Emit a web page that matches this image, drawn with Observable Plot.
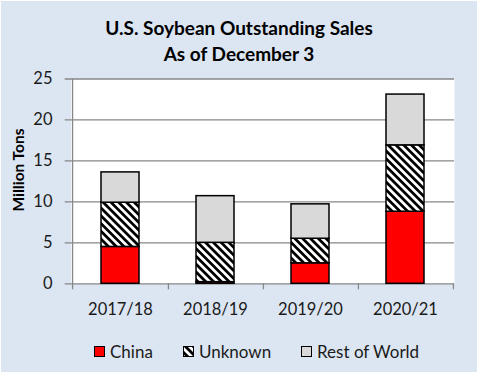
<!DOCTYPE html>
<html><head><meta charset="utf-8">
<script src="https://cdn.jsdelivr.net/npm/d3@7"></script>
<script src="https://cdn.jsdelivr.net/npm/@observablehq/plot@0.6"></script>
<style>
body{margin:0;background:#fff;}
#wrap{position:relative;width:482px;height:377px;overflow:hidden;font-family:Lato,"Open Sans",sans-serif;color:#1a1a1a;}
#bg{position:absolute;left:1px;top:1px;width:476px;height:371px;background:#DCE6F2;}
#title{position:absolute;left:1px;width:476px;top:15px;text-align:center;font-weight:bold;font-size:19px;line-height:26px;color:#000;}
#chart{position:absolute;left:0;top:0;}
#ylab{position:absolute;left:18px;top:170px;transform:translate(-50%,-50%) rotate(-90deg);white-space:nowrap;font-weight:bold;font-size:15.5px;color:#000;}
.li{position:absolute;top:341px;height:20px;display:flex;align-items:center;font-size:17px;white-space:nowrap;}
.sw{width:11px;height:11px;box-sizing:border-box;border:1px solid #000;margin-right:5px;}
</style></head>
<body>
<div id="wrap">
  <div id="bg"></div>
  <div id="title">U.S. Soybean Outstanding Sales<br>As of December 3</div>
  <div id="chart"></div>
  <div id="ylab">Million Tons</div>
  <div id="legend"></div>
</div>
<script>
const years = ["2017/18", "2018/19", "2019/20", "2020/21"];
const series = ["China", "Unknown", "Rest of World"];
const china = [4.5, 0.2, 2.5, 8.8];
const unknown = [5.4, 4.8, 3.0, 8.1];
const restOfWorld = [3.7, 5.7, 4.2, 6.2];
const yTicks = [0, 5, 10, 15, 20, 25];
const seriesFills = ["#ff0000", "url(#hatch)", "#d9d9d9"];

const values = [china, unknown, restOfWorld];
const data = [];
years.forEach((y, i) => series.forEach((s, j) => data.push({year: y, series: s, value: values[j][i]})));

const W = 482, H = 377;
const mL = 70.7, mR = 28, mT = 78.5, mB = 93.7;
const pI = 0.6, pO = 0.3;
const step = (W - mL - mR) / (years.length - pI + 2 * pO);
const grid = "#878787";

const plot = Plot.plot({
  width: W, height: H,
  marginLeft: mL, marginRight: mR, marginTop: mT, marginBottom: mB,
  style: {background: "transparent", fontFamily: "Lato, 'Open Sans', sans-serif", fontSize: "16px", color: "#1a1a1a", overflow: "visible"},
  x: {domain: years, paddingInner: pI, paddingOuter: pO, align: 0.5, label: null},
  y: {domain: [0, 25], label: null},
  color: {domain: series, range: seriesFills},
  marks: [
    Plot.frame({fill: "white", stroke: "none"}),
    Plot.ruleY(yTicks, {y: d => d, stroke: grid, strokeWidth: 1.3, insetLeft: -6}),
    Plot.ruleX([years[0]], {x: d => d, y1: 25, y2: 0, dx: -step / 2, stroke: grid, strokeWidth: 1.3, insetBottom: -6}),
    Plot.ruleX(years, {x: d => d, y1: 0, y2: 0, dx: step / 2, stroke: grid, strokeWidth: 1.3, insetBottom: -6}),
    Plot.barY(data, Plot.stackY({x: "year", y: "value", fill: "series", stroke: "#000", strokeWidth: 1.5})),
    Plot.axisY(yTicks, {tickSize: 0, tickPadding: 18.7, fontSize: 16.5, fill: "#1a1a1a"}),
    Plot.axisX({tickSize: 0, tickPadding: 19, fontSize: 16.5, fill: "#1a1a1a"})
  ]
});

const defs = document.createElementNS("http://www.w3.org/2000/svg", "defs");
defs.innerHTML = `<pattern id="hatch" patternUnits="userSpaceOnUse" width="5.5" height="5.5" patternTransform="rotate(-45)"><rect width="5.5" height="5.5" fill="white"/><rect width="2.75" height="5.5" fill="black"/></pattern>`;
plot.insertBefore(defs, plot.firstChild);
document.getElementById("chart").appendChild(plot);

const legendX = [94, 183, 301];
const legend = document.getElementById("legend");
series.forEach((s, j) => {
  const item = document.createElement("div");
  item.className = "li";
  item.style.left = legendX[j] + "px";
  const sw = document.createElement("div");
  sw.className = "sw";
  if (seriesFills[j].startsWith("url")) {
    sw.innerHTML = `<svg width="9" height="9" style="display:block"><rect width="9" height="9" fill="url(#hatch)"/></svg>`;
  } else {
    sw.style.background = seriesFills[j];
  }
  item.appendChild(sw);
  const t = document.createElement("span");
  t.textContent = s;
  item.appendChild(t);
  legend.appendChild(item);
});
</script>
</body></html>
